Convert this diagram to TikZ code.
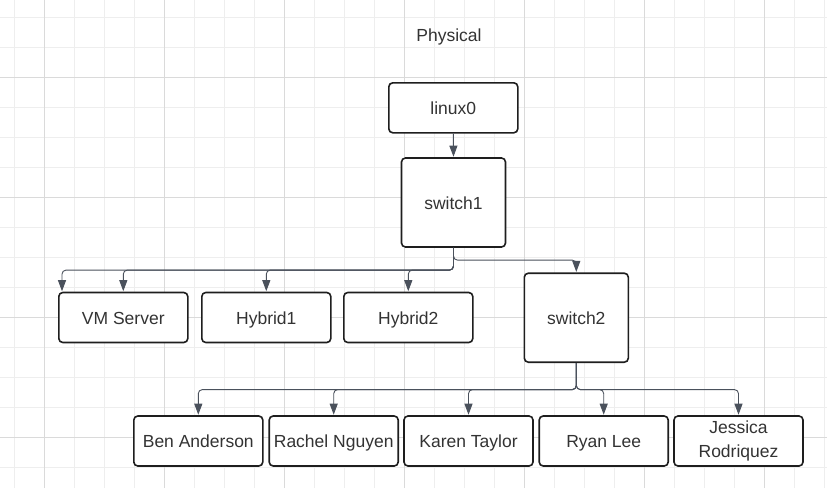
\documentclass[tikz,border=0pt]{standalone}
\usepackage{fontspec}
\setmainfont{Liberation Sans}
\usepackage{tikz}
\usetikzlibrary{arrows.meta}
\definecolor{gridminor}{HTML}{EEEEEE}
\definecolor{gridmajor}{HTML}{DADADA}
\definecolor{boxline}{HTML}{1E1E1E}
\definecolor{boxtext}{HTML}{333333}
\definecolor{wire}{HTML}{4A515C}
\tikzset{
    box/.style={draw=boxline, line width=1.6pt, rounded corners=4pt, fill=white,
        text=boxtext, font=\fontsize{17.5}{24}\selectfont, align=center,
        inner sep=0pt, minimum width=129pt, minimum height=50pt,
        text height=15.5pt, text depth=2pt},
    switchbox/.style={box, minimum width=104pt, minimum height=89pt},
    wire/.style={draw=wire, line width=0.9pt, rounded corners=4pt,
        -{Triangle[length=11pt,width=8pt]}, shorten >=0.5pt}
}

\begin{document}
\begin{tikzpicture}[x=1pt,y=-1pt]
    \useasboundingbox[fill=white] (0,0) rectangle (827,488);
    \foreach \gx in {14.3,44.3,...,824.3}
        \draw[gridminor, line width=0.8pt] (\gx,0) -- (\gx,488);
    \foreach \gy in {17.3,47.3,...,480}
        \draw[gridminor, line width=0.8pt] (0,\gy) -- (827,\gy);
    \foreach \gx in {44.3,164.3,...,800}
        \draw[gridmajor, line width=0.8pt] (\gx,0) -- (\gx,488);
    \foreach \gy in {77.3,197.3,...,480}
        \draw[gridmajor, line width=0.8pt] (0,\gy) -- (827,\gy);

    \node[text=boxtext, font=\fontsize{17.5}{21}\selectfont] (title) at (449,37) {Physical};

    \node[box] (linux0) at (453.3,107.8) {linux0};
    \node[switchbox] (switch1) at (453.5,202.5) {switch1};

    \node[box] (vmserver) at (123.3,317.5) {VM Server};
    \node[box] (hybrid1) at (266.3,317.5) {Hybrid1};
    \node[box] (hybrid2) at (408.3,317.5) {Hybrid2};
    \node[switchbox] (switch2) at (576.3,317.7) {switch2};

    \node[box] (ben) at (198.3,441) {Ben Anderson};
    \node[box] (rachel) at (333.7,441) {Rachel Nguyen};
    \node[box] (karen) at (468.5,441) {Karen Taylor};
    \node[box] (ryan) at (603.7,441) {Ryan Lee};
    \node[box, text height=, text depth=] (jessica) at (738.5,441) {Jessica\\Rodriquez};

    \draw[wire] (linux0.south) -- (switch1.north);
    \draw[wire] (switch1.south) -- ++(0,12.3) -| (switch2.north);
    \draw[wire] (switch1.south) -- ++(0,22.3) -| ([xshift=4pt]vmserver.north west);
    \draw[wire] (switch1.south) -- ++(0,22.3) -| (vmserver.north);
    \draw[wire] (switch1.south) -- ++(0,22.3) -| (hybrid1.north);
    \draw[wire] (switch1.south) -- ++(0,22.3) -| (hybrid2.north);

    \draw[wire] (switch2.south) -- ++(0,26.6) -| (ben.north);
    \draw[wire] (switch2.south) -- ++(0,26.6) -| (rachel.north);
    \draw[wire] (switch2.south) -- ++(0,26.6) -| (karen.north);
    \draw[wire] (switch2.south) -- ++(0,26.6) -| (ryan.north);
    \draw[wire] (switch2.south) -- ++(0,26.6) -| (jessica.north);
\end{tikzpicture}
\end{document}
